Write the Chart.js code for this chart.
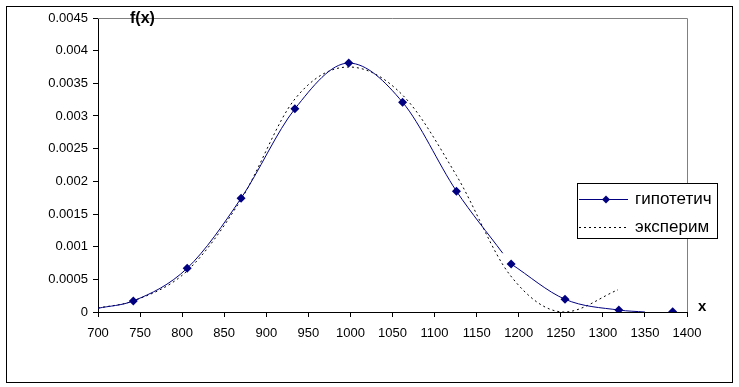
<!DOCTYPE html>
<html>
<head>
<meta charset="utf-8">
<script src="https://cdn.jsdelivr.net/npm/chart.js@4"></script>
<style>
html, body { margin: 0; padding: 0; background: #fff; }
</style>
</head>
<body>
<canvas id="chart" width="739" height="387"></canvas>
<script>
// values
const hypLabel = 'гипотетич';
const hypX = [700, 742, 806, 870, 934, 998, 1062, 1126, 1181, 1186, 1191, 1255, 1319, 1350, 1366, 1383];
const hypY = [0.000057, 0.00017, 0.00067, 0.00174, 0.00311, 0.00381, 0.00321, 0.00185, 0.0009, null, 0.000735, 0.000195, 0.00003, 0, null, 0.000002];
const hypMarker = [0, 1, 1, 1, 1, 1, 1, 1, 0, 0, 1, 1, 1, 0, 0, 1];

const expLabel = 'эксперим';
const expX = [700, 742, 806, 870, 934, 998, 1062, 1126, 1190, 1254, 1318];
const expY = [0.00006, 0.00017, 0.00063, 0.00172, 0.00326, 0.00375, 0.00332, 0.00209, 0.00056, 0.0, 0.00034];

const xTicks = [700, 750, 800, 850, 900, 950, 1000, 1050, 1100, 1150, 1200, 1250, 1300, 1350, 1400];
const yTicks = [0, 0.0005, 0.001, 0.0015, 0.002, 0.0025, 0.003, 0.0035, 0.004, 0.0045];
const yTickLabels = ['0', '0.0005', '0.001', '0.0015', '0.002', '0.0025', '0.003', '0.0035', '0.004', '0.0045'];

const FONT = "'Liberation Sans', Arial, sans-serif";
const NAVY = '#000080';

function zip(xs, ys) {
    return xs.map((x, i) => ({ x: x, y: ys[i] }));
}

// frame, plot border, axis titles and the legend box
const extras = {
    id: 'extras',
    afterDraw(chart) {
        const ctx = chart.ctx;
        const a = chart.chartArea;
        ctx.save();
        // gray top + right border of the plot area
        ctx.strokeStyle = '#808080';
        ctx.lineWidth = 1;
        ctx.beginPath();
        ctx.moveTo(a.left, a.top + 0.5);
        ctx.lineTo(a.right + 0.5, a.top + 0.5);
        ctx.lineTo(a.right + 0.5, a.bottom);
        ctx.stroke();

        // outer frame
        ctx.strokeStyle = '#000';
        ctx.strokeRect(6.5, 6.5, 726, 376);

        // axis titles
        ctx.fillStyle = '#000';
        ctx.font = 'bold 16px ' + FONT;
        ctx.textBaseline = 'middle';
        ctx.textAlign = 'left';
        ctx.fillText('f(x)', 130, 19);
        ctx.font = 'bold 15px ' + FONT;
        ctx.fillText('x', 698, 307);

        // legend
        const lx = 577, ly = 183, lw = 140, lh = 55;
        ctx.fillStyle = '#fff';
        ctx.fillRect(lx, ly, lw, lh);
        ctx.strokeStyle = '#000';
        ctx.strokeRect(lx + 0.5, ly + 0.5, lw, lh);

        const ds = chart.data.datasets;
        const rows = [199, 227];
        ds.forEach((d, i) => {
            const y = rows[i] + 0.5;
            ctx.strokeStyle = d.borderColor;
            ctx.lineWidth = 1;
            ctx.setLineDash(d.borderDash || []);
            ctx.beginPath();
            ctx.moveTo(579, y);
            ctx.lineTo(628, y);
            ctx.stroke();
            ctx.setLineDash([]);
            if (i === 0) {
                ctx.fillStyle = NAVY;
                ctx.beginPath();
                ctx.moveTo(606, y - 4);
                ctx.lineTo(610, y);
                ctx.lineTo(606, y + 4);
                ctx.lineTo(602, y);
                ctx.closePath();
                ctx.fill();
            }
            ctx.fillStyle = '#000';
            ctx.font = '17px ' + FONT;
            ctx.textAlign = 'left';
            ctx.textBaseline = 'middle';
            ctx.fillText(d.label, 635, y);
        });
        ctx.restore();
    }
};

const ctx = document.getElementById('chart').getContext('2d');
const myChart = new Chart(ctx, {
    type: 'line',
    data: {
        datasets: [{
            label: hypLabel,
            data: zip(hypX, hypY),
            borderColor: NAVY,
            backgroundColor: NAVY,
            borderWidth: 1,
            pointStyle: 'rectRot',
            pointRadius: hypMarker.map(m => m ? 4.5 : 0),
            pointBorderWidth: 0,
            cubicInterpolationMode: 'monotone',
            spanGaps: false
        }, {
            label: expLabel,
            data: zip(expX, expY),
            borderColor: '#000',
            borderWidth: 1,
            borderDash: [2, 3],
            pointRadius: 0,
            cubicInterpolationMode: 'monotone'
        }]
    },
    options: {
        responsive: false,
        animation: false,
        layout: { padding: { left: 0, top: 18, right: 52, bottom: 0 } },
        plugins: {
            legend: { display: false },
            tooltip: { enabled: false }
        },
        scales: {
            x: {
                type: 'linear',
                min: 700,
                max: 1400,
                afterBuildTicks: s => { s.ticks = xTicks.map(v => ({ value: v })); },
                afterFit: s => { s.height = 75; },
                grid: { drawOnChartArea: false, color: '#000', tickLength: 5 },
                border: { color: '#000' },
                ticks: {
                    color: '#000',
                    font: { family: FONT, size: 13 },
                    padding: 9,
                    maxRotation: 0,
                    autoSkip: false,
                    callback: v => String(v)
                }
            },
            y: {
                min: 0,
                max: 0.0045,
                afterBuildTicks: s => { s.ticks = yTicks.map(v => ({ value: v })); },
                afterFit: s => { s.width = 98; },
                grid: { drawOnChartArea: false, color: '#000', tickLength: 5 },
                border: { color: '#000' },
                ticks: {
                    color: '#000',
                    font: { family: FONT, size: 13 },
                    padding: 5,
                    autoSkip: false,
                    callback: (v, i) => yTickLabels[i]
                }
            }
        }
    },
    plugins: [extras]
});
</script>
</body>
</html>
